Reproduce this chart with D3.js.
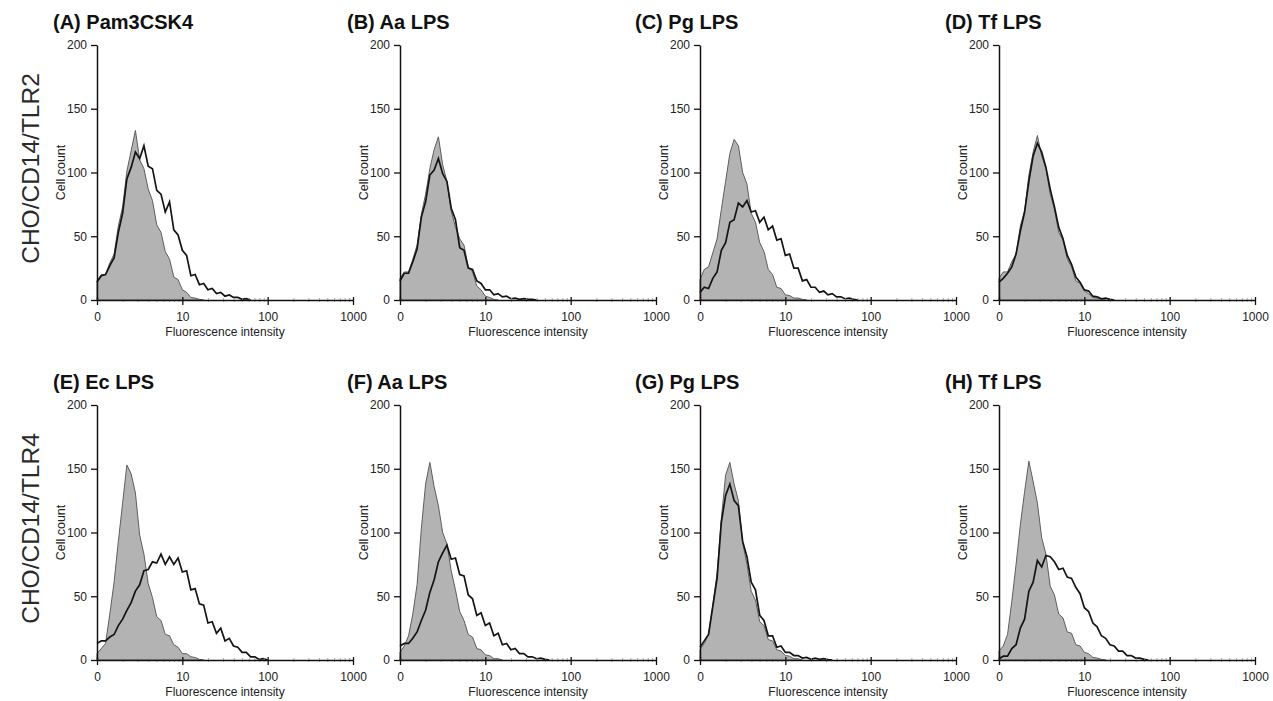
<!DOCTYPE html>
<html><head><meta charset="utf-8">
<script src="https://cdn.jsdelivr.net/npm/d3@7"></script>
<style>body{margin:0;background:#fff}svg{display:block}</style>
</head><body>
<svg id="chart" width="1273" height="701"></svg>
<script>
// ---------- data ----------
const panelTitles = ["(A) Pam3CSK4","(B) Aa LPS","(C) Pg LPS","(D) Tf LPS","(E) Ec LPS","(F) Aa LPS","(G) Pg LPS","(H) Tf LPS"];
const rowLabels = ["CHO/CD14/TLR2","CHO/CD14/TLR4"];
const xTickValues = [1,10,100,1000];
const xTickLabels = ["0","10","100","1000"];
const xMinorTicks = [2,3,4,5,6,7,8,9,20,30,40,50,60,70,80,90,200,300,400,500,600,700,800,900];
const yTickValues = [0,50,100,150,200];
const xAxisTitle = "Fluorescence intensity";
const yAxisTitle = "Cell count";
// channel positions (log10 of fluorescence intensity)
const channelLog = [0,0.05,0.1,0.15,0.2,0.25,0.3,0.35,0.4,0.45,0.5,0.55,0.6,0.65,0.7,0.75,0.8,0.85,0.9,0.95,1,1.05,1.1,1.15,1.2,1.25,1.3,1.35,1.4,1.45,1.5,1.55,1.6,1.65,1.7,1.75,1.8,1.85,1.9,1.95,2];
// control (grey filled) histograms
const controlA = [15,20,20,29,36,58,73,101,117,133,110,103,87,78,59,53,38,32,18,16,8,6,2,1.5,0.5,0,0,0,0,0,0,0,0,0,0,0,0,0,0,0,0];
const controlB = [17,22,22,32,43,67,83,103,118,128,106,93,70,57,48,43,26,22,11,8,3,2,0.5,0,0,0,0,0,0,0,0,0,0,0,0,0,0,0,0,0,0];
const controlC = [16,24,26,37,48,71,93,115,126,121,100,91,68,61,45,38,24,20,10,9,4,3.5,1.5,1.5,0.5,0,0,0,0,0,0,0,0,0,0,0,0,0,0,0,0];
const controlD = [17,22,22,30,36,58,70,98,116,129,113,103,83,71,53,47,32,26,15,13,7,5,2,1.5,0.5,0,0,0,0,0,0,0,0,0,0,0,0,0,0,0,0];
const controlE = [5,9,13,36,61,93,123,153,146,131,98,83,60,49,34,31,20,19,12,10,5,5,2.5,2,0.5,0,0,0,0,0,0,0,0,0,0,0,0,0,0,0,0];
const controlF = [6,11,19,36,59,103,138,155,136,121,100,91,70,55,38,31,20,18,9,8,4,3.5,1,1,0,0,0,0,0,0,0,0,0,0,0,0,0,0,0,0,0];
const controlG = [8,13,20,43,68,111,145,155,138,125,92,75,54,47,30,27,16,15,8,7,3.5,3,1,1,0,0,0,0,0,0,0,0,0,0,0,0,0,0,0,0,0];
const controlH = [7,11,20,46,75,106,132,156,140,123,96,83,58,51,36,33,22,21,12,11,6,5,2,1.5,0.5,0,0,0,0,0,0,0,0,0,0,0,0,0,0,0,0];
// stimulated (black line) histograms
const stimA = [14,19,20,27,33,53,68,95,104,116,111,121,105,103,86,83,69,77,55,51,39,35,19,20,12,13,8,9,5,6,3,4,2,2,0.5,1,0,0,0,0,0];
const stimB = [15,21,21,30,40,65,77,98,102,111,99,93,72,63,41,39,25,24,15,13,8,8,4,5,2.5,3,1,1.5,0.5,1,0.5,0.5,0,0,0,0,0,0,0,0,0];
const stimC = [6,10,9,17,22,39,45,61,63,76,73,78,69,70,61,65,55,58,47,48,35,36,25,25,15,16,10,10,6,7,4,5,2.5,2.5,1,1.5,0.5,0,0,0,0];
const stimD = [14,17,21,26,36,54,69,93,113,123,116,104,87,73,57,48,35,28,18,14,8,7,3,2.5,1,1.5,0.5,0,0,0,0,0,0,0,0,0,0,0,0,0,0];
const stimE = [13,15,15,18,20,27,32,39,45,54,59,70,71,77,76,83,75,81,75,80,69,70,55,56,44,43,29,30,21,25,15,17,11,10,6,6,2.5,2.5,0.5,1,0];
const stimF = [11,13,13,17,22,31,39,53,63,77,84,90,79,80,67,66,51,48,35,37,27,29,19,21,12,13,8,9,5,5,2.5,2.5,1,1.5,0.5,0,0,0,0,0,0];
const stimG = [10,15,20,42,64,108,129,138,125,121,93,81,61,55,35,31,19,19,10,11,6,6,3.5,3.5,1.5,2,0.5,1.5,0.5,1,0.3,0,0,0,0,0,0,0,0,0,0];
const stimH = [1,3,3,9,12,25,32,54,61,78,73,82,81,77,71,72,65,64,57,52,41,38,29,26,19,17,12,11,7,7,3.5,3.5,1.5,1.5,0.5,0,0,0,0,0,0];

const controls = [controlA,controlB,controlC,controlD,controlE,controlF,controlG,controlH];
const stims = [stimA,stimB,stimC,stimD,stimE,stimF,stimG,stimH];

// ---------- layout ----------
const colX = [97, 400, 700, 999];
const rowY = [45, 405];
const titleX = [53, 347, 635, 945];
const W = 256, H = 255;
const font = "'Liberation Sans', Arial, Helvetica, sans-serif";

const svg = d3.select("#chart");

function toPoints(arr){
  let last = arr.length - 1;
  while (last > 0 && arr[last] === 0) last--;
  const pts = [];
  for (let i = 0; i <= Math.min(last + 1, arr.length - 1); i++) {
    pts.push({v: Math.pow(10, channelLog[i]), c: arr[i]});
  }
  return pts;
}

rowLabels.forEach((lab, r) => {
  svg.append("text")
    .attr("transform", `translate(39,${rowY[r] + H/2 - 4}) rotate(-90)`)
    .attr("text-anchor", "middle")
    .attr("font-family", font)
    .attr("font-size", 24.5)
    .attr("fill", "#2a2a2a")
    .text(lab);
});

panelTitles.forEach((title, i) => {
  const col = i % 4, row = Math.floor(i / 4);
  const x0 = colX[col], y0 = rowY[row];
  const g = svg.append("g").attr("transform", `translate(${x0},${y0})`);

  const x = d3.scaleLog().domain([1, 1000]).range([0, W]);
  const y = d3.scaleLinear().domain([0, 200]).range([H, 0]);

  const ctrl = toPoints(controls[i]);
  const stim = toPoints(stims[i]);

  g.append("path")
    .datum(ctrl)
    .attr("d", d3.area().x(d => x(d.v)).y0(y(0)).y1(d => y(d.c)))
    .attr("fill", "#b3b3b3")
    .attr("stroke", "#5e5e5e")
    .attr("stroke-width", 1)
    .attr("stroke-linejoin", "miter");

  g.append("path")
    .datum(stim)
    .attr("d", d3.line().x(d => x(d.v)).y(d => y(d.c)))
    .attr("fill", "none")
    .attr("stroke", "#141414")
    .attr("stroke-width", 1.7)
    .attr("stroke-linejoin", "miter");

  // minor x ticks (faint)
  const minor = g.append("g").attr("transform", `translate(0,${H})`)
    .call(d3.axisBottom(x).tickValues(xMinorTicks).tickSize(2).tickFormat(""));
  minor.select(".domain").remove();
  minor.selectAll("line").attr("stroke", "#999").attr("stroke-width", 0.8).attr("y1", -2);

  // major x axis
  const xa = g.append("g").attr("transform", `translate(0,${H})`)
    .call(d3.axisBottom(x).tickValues(xTickValues).tickFormat((d, k) => xTickLabels[k])
      .tickSize(5).tickSizeOuter(0).tickPadding(7));
  xa.select(".domain").attr("stroke", "#111").attr("stroke-width", 1.5);
  xa.selectAll(".tick line").attr("stroke", "#111").attr("stroke-width", 1.3).attr("y1", -3);
  xa.selectAll("text").attr("font-family", font).attr("font-size", 12).attr("fill", "#222");

  // y axis
  const ya = g.append("g")
    .call(d3.axisLeft(y).tickValues(yTickValues).tickSize(6).tickSizeOuter(0).tickPadding(4));
  ya.select(".domain").attr("stroke", "#111").attr("stroke-width", 1.5);
  ya.selectAll("line").attr("stroke", "#111").attr("stroke-width", 1.3);
  ya.selectAll("text").attr("font-family", font).attr("font-size", 12).attr("fill", "#222");

  g.append("text")
    .attr("x", W/2).attr("y", H + 36)
    .attr("text-anchor", "middle")
    .attr("font-family", font).attr("font-size", 12).attr("fill", "#222")
    .text(xAxisTitle);

  g.append("text")
    .attr("transform", `translate(-32,${H/2}) rotate(-90)`)
    .attr("text-anchor", "middle")
    .attr("font-family", font).attr("font-size", 12.5).attr("fill", "#222")
    .text(yAxisTitle);

  svg.append("text")
    .attr("x", titleX[col]).attr("y", y0 - 16)
    .attr("font-family", font).attr("font-size", 20).attr("font-weight", "bold")
    .attr("fill", "#111")
    .text(title);
});
</script>
</body></html>
